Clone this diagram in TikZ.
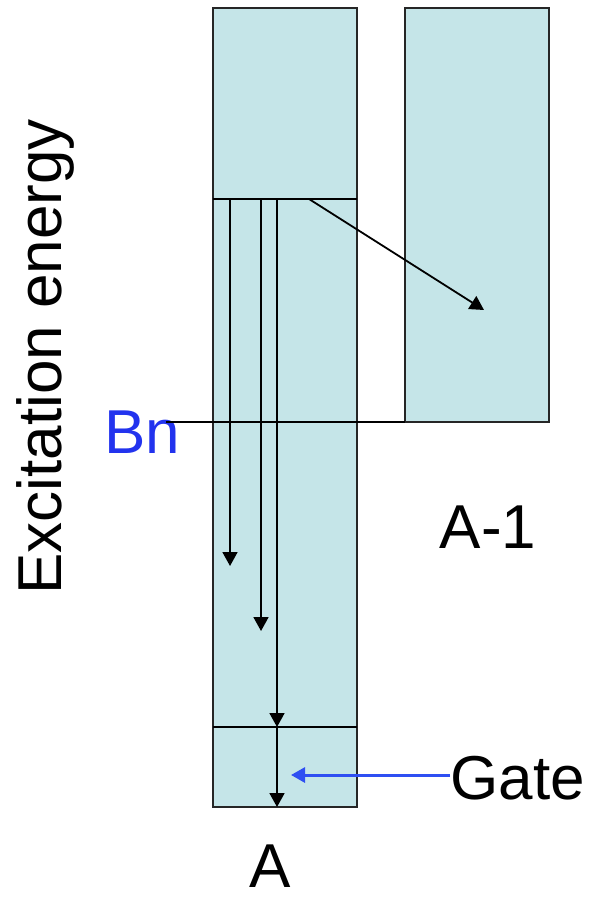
\documentclass[tikz,border=0pt]{standalone}
\usepackage{fontspec}
\setmainfont{Liberation Sans}
\usetikzlibrary{arrows.meta,positioning}

\definecolor{boxfill}{HTML}{C5E5E8}
\definecolor{bnblue}{HTML}{2233EE}
\definecolor{gateblue}{HTML}{2F4FF2}

\tikzset{
    level/.style={draw=black!85, fill=boxfill, line width=1pt},
    decay/.style={line width=0.9pt, -{Triangle[length=7pt,width=7.5pt]}},
    label/.style={font=\fontsize{31}{37}\selectfont, inner sep=0pt}
}

\begin{document}
\begin{tikzpicture}[x=0.5pt, y=-0.5pt]
    \useasboundingbox (0,0) rectangle (590,898);

    % level boxes of A and A-1
    \draw[level] (213,8) rectangle (357,807);
    \draw[level] (405,8) rectangle (549,422);
    \draw[line width=1pt] (213,199) -- (357,199);
    \draw[line width=1pt] (213,727) -- (357,727);

    % labels
    \node[label, rotate=90] (axis) at (45,357) {Excitation energy};
    \node[label, text=bnblue] (bn) at (142,432) {Bn};
    \node[label] (amone) at (488,527) {A-1};
    \node[label] (a) at (270,866) {A};
    \node[label, anchor=west] (gate) at (450,778) {Gate};

    % separation energy line
    \coordinate (bnend) at (166,422);
    \coordinate (bnbox) at (405,422);
    \draw[line width=0.9pt] (bnend) -- (bnbox);

    % gamma decays
    \coordinate (s1) at (230,199);
    \coordinate (e1) at (230,566);
    \coordinate (s2) at (261,199);
    \coordinate (e2) at (261,631);
    \coordinate (s3) at (277,199);
    \coordinate (e3) at (277,727);
    \coordinate (e4) at (277,807);
    \draw[decay] (s1) -- (e1);
    \draw[decay] (s2) -- (e2);
    \draw[decay] (s3) -- (e3);
    \draw[decay] (e3) -- (e4);

    % neutron emission
    \coordinate (n0) at (309,199);
    \coordinate (n1) at (484,310);
    \draw[decay] (n0) -- (n1);

    % gate
    \coordinate (gtip) at (291,775);
    \draw[decay, draw=gateblue, fill=gateblue, line width=1.5pt] (gate.west |- gtip) -- (gtip);
\end{tikzpicture}
\end{document}
